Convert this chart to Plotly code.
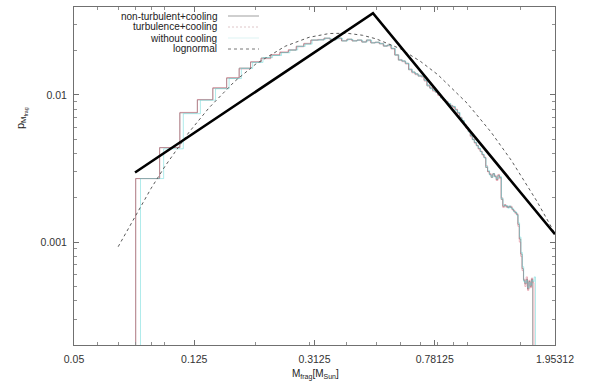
import numpy as np
import plotly.graph_objects as go

# ---------------- data ----------------
# histogram bins (linear in mass)
bin_width = 0.016
nt_start = 0.080   # non-turbulent+cooling
tc_start = 0.080   # turbulence+cooling
wc_start = 0.083   # without cooling

nt_vals = [0.0027, 0.00438, 0.00755, 0.00925, 0.0111, 0.0130, 0.0152, 0.0167, 0.0178, 0.0186,
           0.0194, 0.0201, 0.0214, 0.0222, 0.0236, 0.0236, 0.0243, 0.0236, 0.0243, 0.0232,
           0.0239, 0.0232, 0.0236, 0.0228, 0.0236, 0.0225, 0.0228, 0.0222, 0.0214, 0.0218,
           0.0207, 0.0186, 0.0172, 0.0170, 0.0164, 0.0148, 0.0143, 0.0139, 0.0134, 0.0134,
           0.0126, 0.0115, 0.0111, 0.0108, 0.0105, 0.0100, 0.00955, 0.00925, 0.00897, 0.00869,
           0.00843, 0.00830, 0.00792, 0.00755, 0.00699, 0.00667, 0.00627, 0.00598, 0.00563, 0.00528,
           0.00497, 0.00474, 0.00452, 0.00432, 0.00412, 0.00393, 0.00375, 0.00321, 0.00302, 0.00288,
           0.00275, 0.00292, 0.00279, 0.00266, 0.00284, 0.00275, 0.00195, 0.00175, 0.00178, 0.00175,
           0.00172, 0.00175, 0.00172, 0.00167, 0.00162, 0.00159, 0.00154, 0.00132, 0.00105, 0.00083,
           0.00066, 0.00055, 0.00052, 0.00056, 0.00048, 0.00054, 0.00050, 0.00056]

tc_vals = [0.0027, 0.00438, 0.00760, 0.00930, 0.0112, 0.0131, 0.0150, 0.0168, 0.0176, 0.0188,
           0.0196, 0.0203, 0.0212, 0.0224, 0.0234, 0.0238, 0.0241, 0.0238, 0.0240, 0.0234,
           0.0237, 0.0234, 0.0234, 0.0230, 0.0233, 0.0227, 0.0226, 0.0224, 0.0216, 0.0215,
           0.0205, 0.0188, 0.0174, 0.0168, 0.0162, 0.0150, 0.0141, 0.0137, 0.0136, 0.0132,
           0.0124, 0.0117, 0.0112, 0.0106, 0.0104, 0.0099, 0.00965, 0.00915, 0.00905, 0.00860,
           0.00850, 0.00820, 0.00800, 0.00745, 0.00705, 0.00660, 0.00630, 0.00590, 0.00570, 0.00520,
           0.00500, 0.00470, 0.00455, 0.00428, 0.00415, 0.00390, 0.00378, 0.00330, 0.00300, 0.00292,
           0.00280, 0.00288, 0.00283, 0.00262, 0.00288, 0.00270, 0.00200, 0.00172, 0.00180, 0.00172,
           0.00175, 0.00172, 0.00175, 0.00165, 0.00164, 0.00156, 0.00156, 0.00128, 0.00100, 0.00080,
           0.00064, 0.00056, 0.00050, 0.00058, 0.00047, 0.00055, 0.00049, 0.00057, 0.00053]

wc_vals = [0.0027, 0.00430, 0.00745, 0.00920, 0.0110, 0.0129, 0.0151, 0.0166, 0.0179, 0.0185,
           0.0193, 0.0202, 0.0213, 0.0221, 0.0235, 0.0237, 0.0242, 0.0237, 0.0242, 0.0233,
           0.0238, 0.0233, 0.0235, 0.0229, 0.0235, 0.0226, 0.0227, 0.0223, 0.0215, 0.0217,
           0.0206, 0.0187, 0.0173, 0.0169, 0.0163, 0.0149, 0.0142, 0.0138, 0.0135, 0.0133,
           0.0125, 0.0116, 0.0110, 0.0107, 0.0104, 0.0101, 0.00950, 0.00930, 0.00890, 0.00875,
           0.00840, 0.00835, 0.00785, 0.00760, 0.00695, 0.00670, 0.00620, 0.00600, 0.00560, 0.00530,
           0.00495, 0.00476, 0.00450, 0.00435, 0.00410, 0.00395, 0.00372, 0.00325, 0.00305, 0.00285,
           0.00278, 0.00290, 0.00276, 0.00270, 0.00282, 0.00278, 0.00198, 0.00178, 0.00176, 0.00177,
           0.00170, 0.00176, 0.00170, 0.00168, 0.00160, 0.00160, 0.00152, 0.00135, 0.00108, 0.00085,
           0.00068, 0.00054, 0.00053, 0.00055, 0.00049, 0.00053, 0.00051, 0.00055, 0.00054, 0.00058]

# broken power-law fit (black line)
fit_m = [0.0796, 0.488, 1.953]
fit_p = [0.00297, 0.0358, 0.00113]

# lognormal curve
logn_m = [0.07, 0.08, 0.09, 0.10, 0.12, 0.14, 0.17, 0.20, 0.25, 0.30, 0.35, 0.40, 0.45, 0.50,
          0.60, 0.70, 0.80, 1.00, 1.20, 1.40, 1.70, 1.95]
logn_p = [0.00093, 0.00153, 0.00232, 0.00327, 0.00556, 0.00818, 0.01233, 0.01622, 0.02138, 0.0246,
          0.0261, 0.0262, 0.0254, 0.0240, 0.0206, 0.0169, 0.0137, 0.00877, 0.00558, 0.00359,
          0.0019, 0.00115]

x_ticks = [0.05, 0.125, 0.3125, 0.78125, 1.95312]
x_tick_text = ["0.05", "0.125", "0.3125", "0.78125", "1.95312"]
y_ticks = [0.001, 0.01]
y_tick_text = ["0.001", "0.01"]

legend_names = ["non-turbulent+cooling", "turbulence+cooling", "without cooling", "lognormal"]

FLOOR = 1e-6


def step_xy(start, vals):
    edges = start + bin_width * np.arange(len(vals) + 1)
    xs = [edges[0]] + list(edges[:-1]) + [edges[-1]]
    ys = [FLOOR] + list(vals) + [FLOOR]
    return xs, ys


fig = go.Figure()

styles = [
    (nt_start, nt_vals, "rgba(135,135,135,0.8)"),
    (tc_start, tc_vals, "rgba(215,100,120,0.45)"),
    (wc_start, wc_vals, "rgba(80,210,210,0.45)"),
]
for (st, vals, col), name in zip(styles, legend_names[:3]):
    xs, ys = step_xy(st, vals)
    fig.add_trace(go.Scatter(x=xs, y=ys, mode="lines", line=dict(shape="hv", color=col, width=1),
                             name=name, showlegend=False))

fig.add_trace(go.Scatter(x=logn_m, y=logn_p, mode="lines", line=dict(color="#5a5a5a", width=1, dash="3px,3px"),
                         name="lognormal", showlegend=False))
fig.add_trace(go.Scatter(x=fit_m, y=fit_p, mode="lines", line=dict(color="#000000", width=2.6),
                         showlegend=False))

axis_common = dict(
    showgrid=False, zeroline=False, showline=True, linecolor="#707070", linewidth=1,
    ticks="inside", ticklen=5, tickcolor="#707070", tickwidth=1, mirror="allticks",
    ticklabelstandoff=4,
    tickfont=dict(family="Liberation Sans, Arial, sans-serif", size=10.5, color="#333333"),
)

x_minor = [0.06, 0.07, 0.08, 0.09, 0.1, 0.2, 0.3, 0.4, 0.5, 0.6, 0.7, 0.8, 0.9, 1.0, 1.5]
y_minor = [3e-4, 4e-4, 5e-4, 6e-4, 7e-4, 8e-4, 9e-4, 2e-3, 3e-3, 4e-3, 5e-3, 6e-3, 7e-3, 8e-3, 9e-3,
           2e-2, 3e-2]

fig.update_xaxes(type="log", range=[np.log10(0.05) - 1e-5, np.log10(1.95312) + 1e-5],
                 tickvals=x_ticks, ticktext=x_tick_text,
                 minor=dict(tickvals=x_minor, ticklen=3, ticks="inside", tickcolor="#909090"),
                 **axis_common)
fig.update_yaxes(type="log", range=[np.log10(0.0002), np.log10(0.0395)],
                 tickvals=y_ticks, ticktext=y_tick_text,
                 minor=dict(tickvals=y_minor, ticklen=3, ticks="inside", tickcolor="#909090"),
                 **axis_common)

L, R, T, B = 74, 38, 7, 41
W, H = 593, 386
pw, ph = W - L - R, H - T - B


def px(xp):
    return (xp - L) / pw


def py(yp):
    return 1 - (yp - T) / ph


font = dict(family="Liberation Sans, Arial, sans-serif", size=10, color="#222222")
legend_rows = [16, 27, 38, 49]
legend_cols = ["rgba(135,135,135,0.8)", "rgba(200,160,165,0.6)", "rgba(170,225,225,0.4)", "#777777"]
legend_dash = ["solid", "2px,2px", "solid", "3px,3px"]
annotations = []
shapes = []
for name, yr, col, dsh in zip(legend_names, legend_rows, legend_cols, legend_dash):
    annotations.append(dict(x=px(219), y=py(yr), xref="paper", yref="paper", text=name, showarrow=False,
                            xanchor="right", yanchor="middle", font=font))
    shapes.append(dict(type="line", xref="paper", yref="paper", x0=px(228), x1=px(259), y0=py(yr), y1=py(yr),
                       line=dict(color=col, width=1, dash=dsh)))

annotations.append(dict(x=px(315), y=py(374), xref="paper", yref="paper",
                        text="M<sub>frag</sub>[M<sub>Sun</sub>]", showarrow=False,
                        xanchor="center", yanchor="middle", font=font))
annotations.append(dict(x=px(21), y=py(118), xref="paper", yref="paper",
                        text="p<sub>M<sub>frag</sub></sub>", showarrow=False, textangle=-90,
                        xanchor="center", yanchor="middle", font=dict(font, size=11)))

fig.update_layout(
    width=W, height=H, margin=dict(l=L, r=R, t=T, b=B),
    paper_bgcolor="white", plot_bgcolor="white",
    showlegend=False, annotations=annotations, shapes=shapes,
)

fig.write_html("out.html")
